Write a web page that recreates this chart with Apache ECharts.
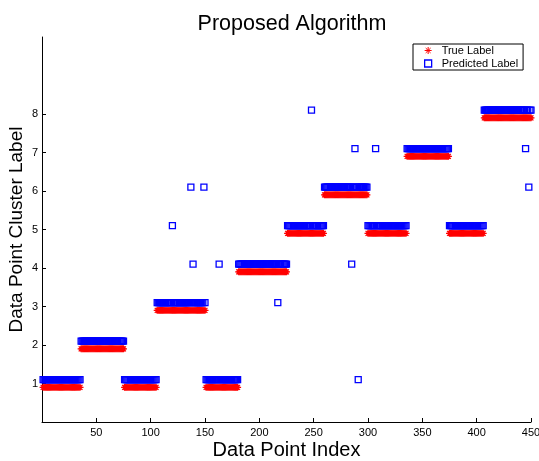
<!DOCTYPE html>
<html>
<head>
<meta charset="utf-8">
<script src="https://cdn.jsdelivr.net/npm/echarts@6/dist/echarts.min.js"></script>
<style>
html,body{margin:0;padding:0;background:#fff;}
#c{width:539px;height:461px;}
</style>
</head>
<body>
<div id="c"></div>
<script>
// True-label segments (1-based data point indices)
var segStart = [1, 36, 76, 106, 151, 181, 226, 260, 300, 336, 375, 407];
var segEnd   = [35, 75, 105, 150, 180, 225, 259, 299, 335, 374, 406, 450];
var segLabel = [1, 2, 1, 3, 1, 4, 5, 6, 5, 7, 5, 8];
// Points where the predicted label differs from the true label
var outlierIdx  = [120, 137, 139, 149, 163, 217, 248, 285, 288, 291, 307, 445, 448];
var outlierPred = [5, 6, 4, 6, 4, 3, 8, 4, 7, 1, 7, 7, 6];
// Display offsets used in the figure
var trueOffset = -0.1;
var predOffset = 0.1;
// Axis ticks
var xTicks = [50, 100, 150, 200, 250, 300, 350, 400, 450];
var yTicks = [1, 2, 3, 4, 5, 6, 7, 8];

var trueLab = {};
for (var s = 0; s < segStart.length; s++) {
  for (var i = segStart[s]; i <= segEnd[s]; i++) trueLab[i] = segLabel[s];
}
var predLab = {};
for (var k in trueLab) predLab[k] = trueLab[k];
for (var j = 0; j < outlierIdx.length; j++) predLab[outlierIdx[j]] = outlierPred[j];

var trueData = [], predData = [];
for (var n = 1; n <= 450; n++) {
  trueData.push([n, trueLab[n] + trueOffset]);
  predData.push([n, predLab[n] + predOffset]);
}

var asterisk = 'path://M0,-10L0,10M-10,0L10,0M-7,-7L7,7M-7,7L7,-7';
var FONT = 'Liberation Sans, Arial, Helvetica, sans-serif';

var chart = echarts.init(document.getElementById('c'), null, {renderer: 'canvas'});
chart.setOption({
  animation: false,
  backgroundColor: '#fff',
  textStyle: {fontFamily: FONT, color: '#000'},
  title: {
    text: 'Proposed Algorithm',
    left: 287, textAlign: 'center', top: 8,
    textStyle: {fontSize: 21.5, fontWeight: 'normal', color: '#000', fontFamily: FONT}
  },
  legend: {
    orient: 'vertical',
    left: 413, top: 44,
    padding: [0, 5, 0, 11],
    itemGap: 0,
    itemWidth: 7, itemHeight: 7,
    borderColor: '#000', borderWidth: 1,
    backgroundColor: '#fff',
    textStyle: {fontSize: 11, color: '#000', fontFamily: FONT, lineHeight: 13, padding: [0, 0, 0, 5]},
    data: [
      {name: 'True Label', icon: asterisk, itemStyle: {color: 'red', borderColor: 'red', borderWidth: 1}},
      {name: 'Predicted Label', icon: 'rect', itemStyle: {color: 'transparent', borderColor: '#0000ff', borderWidth: 1.3}}
    ]
  },
  grid: {left: 42, right: 8, top: 37, bottom: 39, outerBoundsMode: 'none', containLabel: false},
  xAxis: {
    type: 'value', min: 0, max: 450, interval: 50,
    name: 'Data Point Index', nameLocation: 'middle', nameGap: 18, nameMoveOverlap: false,
    nameTextStyle: {fontSize: 20, color: '#000', fontFamily: FONT},
    axisLine: {show: true, onZero: false, lineStyle: {color: '#000', width: 1}},
    axisTick: {show: true, inside: true, length: 4, lineStyle: {color: '#000'}, customValues: xTicks},
    axisLabel: {show: true, fontSize: 11, color: '#000', margin: 5, fontFamily: FONT, customValues: xTicks},
    splitLine: {show: false}
  },
  yAxis: {
    type: 'value', min: 0, max: 10, interval: 1,
    name: 'Data Point Cluster Label', nameLocation: 'middle', nameGap: 16, nameMoveOverlap: false,
    nameTextStyle: {fontSize: 19, color: '#000', fontFamily: FONT},
    axisLine: {show: true, onZero: false, lineStyle: {color: '#000', width: 1}},
    axisTick: {show: true, inside: true, length: 4, lineStyle: {color: '#000'}, customValues: yTicks},
    axisLabel: {show: true, fontSize: 11, color: '#000', margin: 4, fontFamily: FONT, customValues: yTicks},
    splitLine: {show: false}
  },
  series: [
    {
      name: 'True Label', type: 'scatter', data: trueData,
      symbol: asterisk, symbolSize: 7,
      itemStyle: {color: 'red', borderColor: 'red', borderWidth: 1.2, opacity: 1},
      emphasis: {disabled: true}
    },
    {
      name: 'Predicted Label', type: 'scatter', data: predData,
      symbol: 'rect', symbolSize: 6,
      itemStyle: {color: 'transparent', borderColor: '#0000ff', borderWidth: 1.3, opacity: 1},
      emphasis: {disabled: true}
    }
  ]
});
</script>
</body>
</html>
